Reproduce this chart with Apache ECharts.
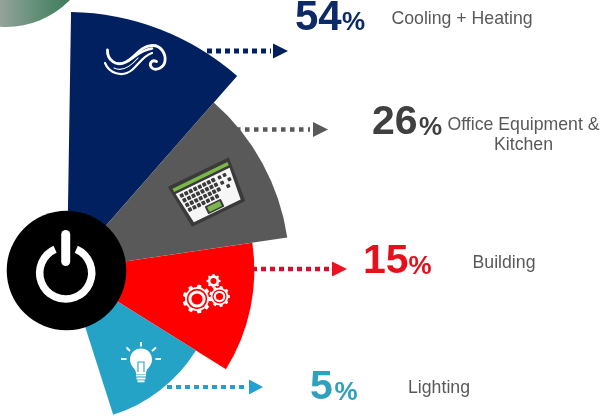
<!DOCTYPE html>
<html>
<head>
<meta charset="utf-8">
<style>html,body{margin:0;padding:0;background:#fff}#chart{width:601px;height:418px}</style>
<script src="https://cdn.jsdelivr.net/npm/echarts@6/dist/echarts.min.js"></script>
</head>
<body>
<div id="chart"></div>
<script>
// Energy use by end use, drawn as a fan of equal-angle sectors ranked by share.
const categories = ['Cooling + Heating', 'Office Equipment & Kitchen', 'Building', 'Lighting'];
const shares = [54, 26, 15, 5];
const rankTicks = ['5%', '15%', '26%', '54%'];
const sliceColors = ['#002060', '#595959', '#ff0000', '#25a3c6'];
const figureColors = ['#0c2a68', '#404040', '#e5101c', '#2ea1bd'];
const dotColors = ['#002060', '#595959', '#d0102c', '#259fd0'];
const headColors = ['#002060', '#595959', '#ee1020', '#259fd0'];

const FAN_START = 89.1;
const FAN_END = -72.3;

const FONT = '"Liberation Sans", Arial, sans-serif';
const gfx = [];
const add = el => { gfx.push(el); };

// Corner disc
add({
  type: 'circle', shape: { cx: 6, cy: -62, r: 89 },
  style: { fill: new echarts.graphic.LinearGradient(0, 0.5, 1, 0.5, [
    { offset: 0.47, color: '#95a29b' }, { offset: 0.7, color: '#5b8c72' }, { offset: 0.88, color: '#3a7a58' }, { offset: 1, color: '#2f7550' }
  ]) }
});

// Power button hub
add({ type: 'circle', shape: { cx: 66.5, cy: 270.5, r: 59.8 }, style: { fill: '#000' } });
add({
  type: 'arc',
  shape: { cx: 65.7, cy: 273, r: 26, startAngle: -Math.PI / 2 + 0.42, endAngle: Math.PI * 1.5 - 0.42, clockwise: true },
  style: { stroke: '#fff', fill: 'none', lineWidth: 7.5 }
});
add({
  type: 'line', shape: { x1: 65.7, y1: 234.5, x2: 65.7, y2: 261.5 },
  style: { stroke: '#fff', lineWidth: 9, lineCap: 'round' }
});

// Leader arrows
const leaders = [
  { y: 51, x1: 207, x2: 271, hx: 273, tip: 288, h: 7.5, w: 5, dash: [5, 4] },
  { y: 129.5, x1: 236, x2: 310, hx: 313, tip: 328, h: 7.5, w: 4.5, dash: [4.5, 4.5] },
  { y: 269, x1: 252, x2: 330, hx: 332, tip: 347, h: 7.5, w: 4.5, dash: [5, 4] },
  { y: 387, x1: 167, x2: 248, hx: 249, tip: 263, h: 7.5, w: 4, dash: [5, 4] }
];
leaders.forEach((l, i) => {
  add({
    type: 'line', shape: { x1: l.x1, y1: l.y, x2: l.x2, y2: l.y },
    style: { stroke: dotColors[i], lineWidth: l.w, lineDash: l.dash }
  });
  add({
    type: 'polygon', shape: { points: [[l.hx, l.y - l.h], [l.tip, l.y], [l.hx, l.y + l.h]] },
    style: { fill: headColors[i] }
  });
});

// Share figures and captions
const figurePlaces = [
  { x: 295, y: 18, px: 342, py: 23, size: 42, pct: 26 },
  { x: 372, y: 123, px: 419, py: 128, size: 41, pct: 26 },
  { x: 363, y: 261.7, px: 408.5, py: 267, size: 41, pct: 26 },
  { x: 310, y: 388, px: 334.5, py: 393, size: 41, pct: 26 }
];
figurePlaces.forEach((p, i) => {
  add({
    type: 'text', x: p.x, y: p.y,
    style: { text: String(shares[i]), font: 'bold ' + p.size + 'px ' + FONT, fill: figureColors[i], verticalAlign: 'middle', align: 'left' }
  });
  add({
    type: 'text', x: p.px, y: p.py,
    style: { text: '%', font: 'bold ' + p.pct + 'px ' + FONT, fill: figureColors[i], verticalAlign: 'middle', align: 'left' }
  });
});
const captionLines = [
  { text: 'Cooling + Heating', x: 462, y: 19 },
  { text: 'Office Equipment &', x: 523.5, y: 125 },
  { text: 'Kitchen', x: 523.5, y: 145.5 },
  { text: 'Building', x: 504, y: 263.5 },
  { text: 'Lighting', x: 439, y: 388.5 }
];
captionLines.forEach(c => add({
  type: 'text', x: c.x, y: c.y,
  style: { text: c.text, font: '17.7px ' + FONT, fill: '#595959', align: 'center', verticalAlign: 'middle' }
}));

// Wind icon
[
  ['M107.5,50 C107,60 116,67 126,62 C136,57 140,46 152,45.5 C161,45 166,54 165,61 C164,68 156,71 152,68 C148,64 152,59 156.5,61.5', 2.8],
  ['M128,61 C136,56 141,50 152,48.5', 2.6],
  ['M105,63 C109,73 122,78 132,70 C139,64 143,56 152,53', 2.2],
  ['M114,68 C122,72 131,66 138,58', 1.1]
].forEach(s => add({
  type: 'path', shape: { pathData: s[0] },
  style: { stroke: '#fff', fill: 'none', lineWidth: s[1], lineCap: 'round' }
}));

// Laptop icon, tilted about its own centre
const lapCx = 208.5, lapCy = 193, lapRot = 26 * Math.PI / 180;
const lapTilt = { originX: lapCx, originY: lapCy, rotation: lapRot };
const lapPoly = (pts, fill, extra) => add(Object.assign({
  type: 'polygon', shape: { points: pts.map(p => [lapCx + p[0], lapCy + p[1]]) }, style: Object.assign({ fill }, extra)
}, lapTilt));
const lapKey = (x, y, w, h, fill) => add(Object.assign({
  type: 'rect', shape: { x: lapCx + x, y: lapCy + y, width: w, height: h, r: 0.8 }, style: { fill }
}, lapTilt));
lapPoly([[-33, -22.5], [33, -22.5], [29, 22.5], [-29, 22.5]], '#3a3a3a', { stroke: '#3a3a3a', lineWidth: 1.5, lineJoin: 'round' });
lapPoly([[-30.5, -19.5], [30.5, -19.5], [30.5, -16], [-30.5, -16]], '#7ab648');
lapPoly([[-30, -13.5], [30, -13.5], [26, 20], [-26, 20]], '#f6f6f6');
for (let r = 0; r < 4; r++) {
  for (let c = 0; c < 8 - (r === 3 ? 1 : 0); c++) {
    lapKey(-27 + r * 0.4 + c * 5, -11.5 + r * 5.4, 3.8, 4, '#3a3a3a');
  }
}
[[15, -11], [20.5, -11], [15, -5], [23, -5], [19, 0.5]].forEach(k => lapKey(k[0], k[1], 3.6, 3.6, '#3a3a3a'));
lapKey(-9.5, 10.5, 18, 8.5, '#3a3a3a');
lapKey(-7.5, 12, 14, 5.5, '#7ab648');

// Gears icon
function gear(cx, cy, outer, root, teeth) {
  const pts = [];
  const step = Math.PI * 2 / teeth;
  for (let t = 0; t < teeth; t++) {
    const a = t * step;
    pts.push([cx + root * Math.cos(a - step * 0.5), cy + root * Math.sin(a - step * 0.5)]);
    pts.push([cx + root * Math.cos(a - step * 0.28), cy + root * Math.sin(a - step * 0.28)]);
    pts.push([cx + outer * Math.cos(a - step * 0.18), cy + outer * Math.sin(a - step * 0.18)]);
    pts.push([cx + outer * Math.cos(a + step * 0.18), cy + outer * Math.sin(a + step * 0.18)]);
    pts.push([cx + root * Math.cos(a + step * 0.28), cy + root * Math.sin(a + step * 0.28)]);
  }
  return pts;
}
const gearSpecs = [
  { cx: 197, cy: 299, outer: 14.5, root: 12, teeth: 9, rings: [[10.2, '#f00'], [8.6, '#fff'], [5.6, '#f00']] },
  { cx: 219.5, cy: 296.5, outer: 10.5, root: 8.8, teeth: 9, rings: [[7, '#f00'], [5.8, '#fff'], [3.6, '#f00']] },
  { cx: 213.5, cy: 281, outer: 7, root: 5.6, teeth: 8, rings: [[3, '#f00']] }
];
gearSpecs.forEach(g => {
  add({ type: 'polygon', shape: { points: gear(g.cx, g.cy, g.outer, g.root, g.teeth) }, style: { fill: '#fff' } });
  g.rings.forEach(r => add({ type: 'circle', shape: { cx: g.cx, cy: g.cy, r: r[0] }, style: { fill: r[1] } }));
});

// Light bulb icon
add({
  type: 'path',
  shape: { pathData: 'M134.5,369 C131,365.5 130,362.5 130,359.5 C130,353 135,348.5 141,348.5 C147,348.5 152,353 152,359.5 C152,362.5 151,365.5 147.5,369 C146.5,370.5 146,372 146,374 L136,374 C136,372 135.5,370.5 134.5,369 Z' },
  style: { fill: '#fff' }
});
add({
  type: 'path', shape: { pathData: 'M138,372 L138,362 L144,362 L144,372' },
  style: { stroke: '#25a3c6', fill: 'none', lineWidth: 1.1 }
});
[[136, 375.5, 146, 375.5], [136.5, 378.5, 145.5, 378.5], [137.5, 381.3, 144.5, 381.3],
 [121, 359, 126.5, 359], [155.5, 359, 161, 359], [141, 342, 141, 346.5],
 [126.5, 347.5, 130, 351], [156, 347.5, 152, 351]].forEach(s => add({
  type: 'line', shape: { x1: s[0], y1: s[1], x2: s[2], y2: s[3] },
  style: { stroke: '#fff', lineWidth: 2 }
}));

const chart = echarts.init(document.getElementById('chart'), null, { renderer: 'canvas' });
chart.setOption({
  animation: false,
  backgroundColor: '#fff',
  polar: { center: [67, 270], radius: [152, 258] },
  angleAxis: {
    type: 'category', data: categories, startAngle: FAN_START, endAngle: FAN_END, clockwise: true,
    boundaryGap: true, axisLine: { show: false }, axisTick: { show: false }, axisLabel: { show: false }, splitLine: { show: false }
  },
  radiusAxis: {
    type: 'category', data: rankTicks, boundaryGap: false,
    axisLine: { show: false }, axisTick: { show: false }, axisLabel: { show: false }, splitLine: { show: false }
  },
  series: [{
    type: 'custom',
    coordinateSystem: 'polar',
    z: 2,
    data: categories.map((name, i) => [shares[i] + '%', name]),
    renderItem(params, api) {
      const cs = params.coordSys;
      const p = api.coord([api.value(0), api.value(1)]);
      const mid = Math.atan2(p[1] - cs.cy, p[0] - cs.cx);
      const half = (FAN_START - FAN_END) * Math.PI / 180 / categories.length / 2;
      return {
        type: 'sector',
        shape: {
          cx: cs.cx, cy: cs.cy, r0: 0,
          r: Math.hypot(p[0] - cs.cx, p[1] - cs.cy),
          startAngle: mid - half, endAngle: mid + half, clockwise: true
        },
        style: { fill: sliceColors[params.dataIndex] }
      };
    }
  }, {
    // Hub, icons, leader arrows and text sit above the sectors.
    type: 'custom',
    coordinateSystem: 'none',
    z: 5,
    silent: true,
    data: [0],
    renderItem() {
      return { type: 'group', children: gfx };
    }
  }]
});
</script>
</body>
</html>
